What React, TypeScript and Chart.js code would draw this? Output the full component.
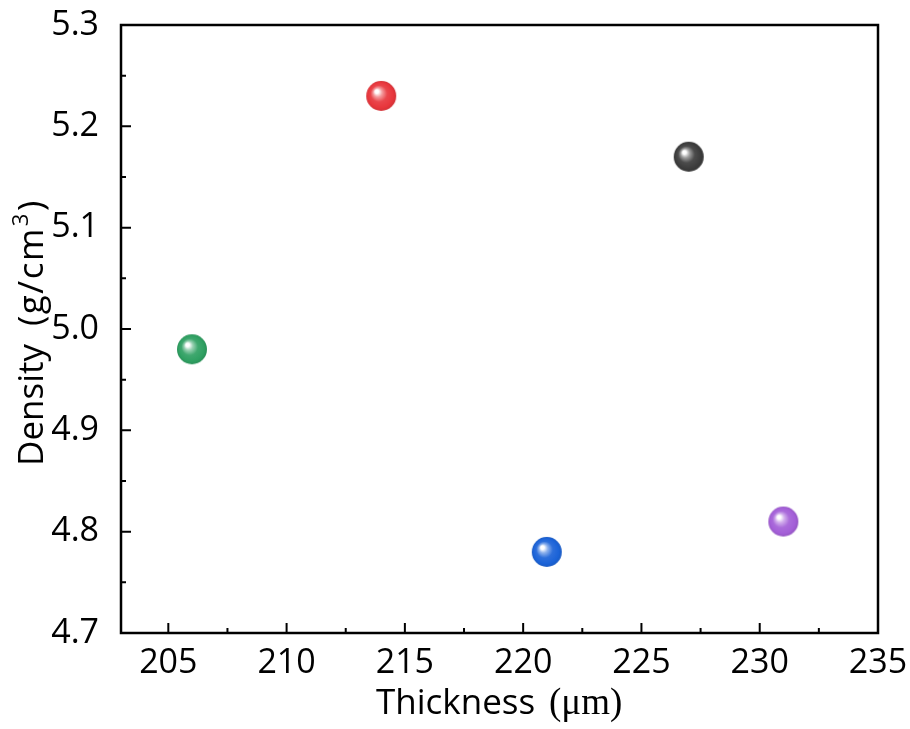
import React, { useEffect, useRef } from "react";
import { Chart, registerables } from "chart.js";

Chart.register(...registerables);

const thickness = [206, 214, 221, 227, 231];
const density = [4.98, 5.23, 4.78, 5.17, 4.81];
const colors = ["#2fa062", "#e8363c", "#1b63d8", "#3c3c3c", "#a45fd8"];
const xTicks = [205, 210, 215, 220, 225, 230, 235];
const yTicks = [4.7, 4.8, 4.9, 5.0, 5.1, 5.2, 5.3];
const xRange = [203, 235];
const yRange = [4.7, 5.3];

function shade(hex: string, f: number) {
  const n = parseInt(hex.slice(1), 16);
  let r = (n >> 16) & 255, g = (n >> 8) & 255, b = n & 255;
  if (f >= 0) {
    r = r + (255 - r) * f; g = g + (255 - g) * f; b = b + (255 - b) * f;
  } else {
    r = r * (1 + f); g = g * (1 + f); b = b * (1 + f);
  }
  return `rgb(${Math.round(r)},${Math.round(g)},${Math.round(b)})`;
}

function makeBall(color: string) {
  const size = 32;
  const c = document.createElement("canvas");
  c.width = size; c.height = size;
  const ctx = c.getContext("2d")!;
  const r = 15, cx = 16, cy = 16;
  const g = ctx.createRadialGradient(cx - 5, cy - 5, 0, cx, cy, r);
  g.addColorStop(0, "#ffffff");
  g.addColorStop(0.12, "#ffffff");
  g.addColorStop(0.3, shade(color, 0.5));
  g.addColorStop(0.55, shade(color, 0.08));
  g.addColorStop(0.85, color);
  g.addColorStop(1, shade(color, -0.1));
  ctx.fillStyle = g;
  ctx.beginPath();
  ctx.arc(cx, cy, r, 0, Math.PI * 2);
  ctx.fill();
  return c;
}

const framePlugin = {
  id: "frame",
  afterDraw(chart: any) {
    const { ctx, chartArea: a, scales } = chart;
    const xs = scales.x, ys = scales.y;
    ctx.save();
    ctx.strokeStyle = "#000";
    ctx.lineWidth = 2.5;
    ctx.strokeRect(a.left, a.top, a.right - a.left, a.bottom - a.top);
    ctx.lineWidth = 2;
    ctx.beginPath();
    for (let i = 0; i < xTicks.length; i++) {
      const px = xs.getPixelForValue(xTicks[i]);
      ctx.moveTo(px, a.bottom); ctx.lineTo(px, a.bottom - 10);
      if (i < xTicks.length - 1) {
        const mx = xs.getPixelForValue((xTicks[i] + xTicks[i + 1]) / 2);
        ctx.moveTo(mx, a.bottom); ctx.lineTo(mx, a.bottom - 5);
      }
    }
    for (let i = 0; i < yTicks.length; i++) {
      const py = ys.getPixelForValue(yTicks[i]);
      ctx.moveTo(a.left, py); ctx.lineTo(a.left + 10, py);
      if (i < yTicks.length - 1) {
        const my = ys.getPixelForValue((yTicks[i] + yTicks[i + 1]) / 2);
        ctx.moveTo(a.left, my); ctx.lineTo(a.left + 5, my);
      }
    }
    ctx.stroke();

    // X title: sans part + serif part
    ctx.fillStyle = "#000";
    ctx.textBaseline = "alphabetic";
    ctx.textAlign = "left";
    const sansFont = "35px 'Open Sans'";
    const serifFont = "37px 'Liberation Serif', 'DejaVu Serif', serif";
    ctx.font = sansFont;
    ctx.fillText("Thickness", 376, 714);
    ctx.font = serifFont;
    ctx.fillText("(\u03bcm)", 549, 714);

    // Y title with superscript
    ctx.save();
    ctx.translate(43, 0);
    ctx.rotate(-Math.PI / 2);
    ctx.font = sansFont;
    ctx.fillText("Density", -466, 0);
    (ctx as any).letterSpacing = "1.5px";
    const t1 = "(g/cm";
    const a1 = ctx.measureText(t1).width;
    ctx.fillText(t1, -326, 0);
    ctx.font = "22px 'Open Sans'";
    const a2 = ctx.measureText("3").width;
    ctx.fillText("3", -326 + a1 + 1, -15);
    ctx.font = sansFont;
    ctx.fillText(")", -326 + a1 + a2 + 2, 0);
    ctx.restore();
    ctx.restore();
  },
};

export default function App() {
  const ref = useRef<HTMLCanvasElement>(null);
  useEffect(() => {
    document.body.style.margin = "0";
    const balls = colors.map(makeBall);
    const chart = new Chart(ref.current!, {
      type: "scatter",
      data: {
        datasets: [
          {
            data: thickness.map((x, i) => ({ x, y: density[i] })),
            pointStyle: balls as any,
            pointRadius: 15,
            pointHoverRadius: 15,
          },
        ],
      },
      options: {
        responsive: false,
        animation: false,
        events: [],
        layout: { padding: { top: 25, right: 32, left: 0, bottom: 0 } },
        plugins: { legend: { display: false }, tooltip: { enabled: false } },
        scales: {
          x: {
            type: "linear",
            min: xRange[0],
            max: xRange[1],
            grid: { display: false },
            border: { display: false },
            afterBuildTicks: (s: any) => { s.ticks = xTicks.map((v) => ({ value: v })); },
            afterFit: (s: any) => { s.height = 96; s.paddingRight = 0; s.paddingLeft = 0; },
            ticks: {
              color: "#000",
              font: { family: "'Open Sans'", size: 34 },
              padding: 2,
              maxRotation: 0,
              callback: (v: any) => String(v),
            },
          },
          y: {
            type: "linear",
            min: yRange[0],
            max: yRange[1],
            grid: { display: false },
            border: { display: false },
            afterBuildTicks: (s: any) => { s.ticks = yTicks.map((v) => ({ value: v })); },
            afterFit: (s: any) => { s.width = 121; s.paddingTop = 0; s.paddingBottom = 0; },
            ticks: {
              color: "#000",
              font: { family: "'Open Sans'", size: 34 },
              padding: 14,
              callback: (v: any) => Number(v).toFixed(1),
            },
          },
        },
      },
      plugins: [framePlugin],
    });
    return () => chart.destroy();
  }, []);
  return (
    <div style={{ width: 910, height: 729, background: "#fff" }}>
      <canvas ref={ref} width={910} height={729} style={{ display: "block" }} />
    </div>
  );
}
